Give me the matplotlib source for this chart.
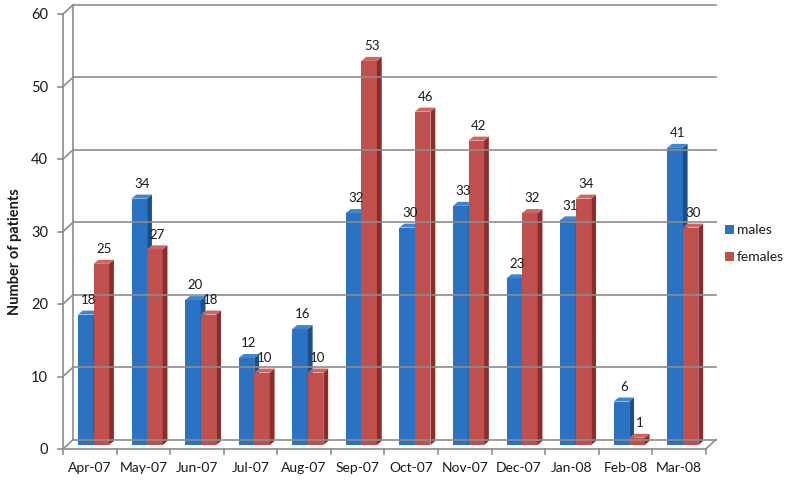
import numpy as np
import matplotlib
matplotlib.use("Agg")
import matplotlib.pyplot as plt
from matplotlib.patches import Polygon, Rectangle

plt.rcParams["font.family"] = ["Lato", "DejaVu Sans"]

# data ------------------------------------------------------------------------
months = ["Apr-07", "May-07", "Jun-07", "Jul-07", "Aug-07", "Sep-07",
          "Oct-07", "Nov-07", "Dec-07", "Jan-08", "Feb-08", "Mar-08"]
males = [18, 34, 20, 12, 16, 32, 30, 33, 23, 31, 6, 41]
females = [25, 27, 18, 10, 10, 53, 46, 42, 32, 34, 1, 30]
yticks = [0, 10, 20, 30, 40, 50, 60]

# colours: front, side, top
blue = ("#2B73C2", "#1B4F8A", "#3F86D2")
red = ("#C0504D", "#8A2E2B", "#CF6461")
grid_c = "#8C8C8C"
txt_c = "#1a1a1a"

# 3D look: wall depth and bar depth (data units)
D = 0.19     # wall depth in x
DV = 1.3     # wall depth in y
bd, bv = 0.09, 0.55   # bar sits at half depth
bw = 0.29    # bar width

fig = plt.figure(figsize=(7.87, 4.85), dpi=100)
W, H = 787, 485
left, right, bottom, top = 63, 716, 450, 5
ax = fig.add_axes([left / W, 1 - bottom / H, (right - left) / W, (bottom - top) / H])
n = len(months)
ax.set_xlim(0, n + D)
ax.set_ylim(0, 60 + DV + 0.1)
ax.axis("off")

# walls and grid
for v in yticks:
    ax.plot([0, D], [v, v + DV], color=grid_c, lw=1.2, clip_on=False)
    ax.plot([D, n + D], [v + DV, v + DV], color=grid_c, lw=1.2, clip_on=False)
    ax.plot([-0.09, 0], [v, v], color=grid_c, lw=1.2, clip_on=False)
    ax.text(-0.28, v, str(v), ha="right", va="center", fontsize=10.5, color=txt_c)
ax.plot([0, 0], [0, 60], color=grid_c, lw=1.2, clip_on=False)
ax.plot([D, D], [DV, 60 + DV], color=grid_c, lw=1.2, clip_on=False)
ax.plot([0, n], [0, 0], color=grid_c, lw=1.2, clip_on=False)
ax.plot([n, n + D], [0, DV], color=grid_c, lw=1.2, clip_on=False)
for i in range(n + 1):
    ax.plot([i, i], [0, -0.75], color=grid_c, lw=1.2, clip_on=False)
for i, m in enumerate(months):
    ax.text(i + 0.5, -2.5, m, ha="center", va="center", fontsize=10, color=txt_c)


def bar3d(x0, val, cols):
    x1 = x0 + bw
    y0, y1 = bv, bv + val
    ax.add_patch(Rectangle((x0, y0), bw, val, facecolor=cols[0], edgecolor="none", clip_on=False))
    ax.add_patch(Polygon([(x1, y0), (x1 + bd, y0 + bv), (x1 + bd, y1 + bv), (x1, y1)],
                         closed=True, facecolor=cols[1], edgecolor="none", clip_on=False))
    ax.add_patch(Polygon([(x0, y1), (x0 + bd, y1 + bv), (x1 + bd, y1 + bv), (x1, y1)],
                         closed=True, facecolor=cols[2], edgecolor="none", clip_on=False))
    ax.text(x0 + bw / 2 + bd / 2, y1 + bv + 0.8, str(val), ha="center", va="bottom",
            fontsize=9.5, color=txt_c)


for i in range(n):
    bar3d(i + 0.28, males[i], blue)
    bar3d(i + 0.28 + bw, females[i], red)

fig.text(15 / W, 1 - 252 / H, "Number of patients", rotation=90, ha="center", va="center",
         fontsize=10.5, fontweight="bold", color=txt_c)

# legend
for k, (lab, cols) in enumerate([("males", blue), ("females", red)]):
    yk = 230 + k * 27
    fig.patches.append(Rectangle((725 / W, 1 - (yk + 4.5) / H), 9 / W, 9 / H,
                                 transform=fig.transFigure, facecolor=cols[0], edgecolor="none"))
    fig.text(737 / W, 1 - yk / H, lab, ha="left", va="center", fontsize=10, color=txt_c)

fig.savefig("out.png", dpi=100)
